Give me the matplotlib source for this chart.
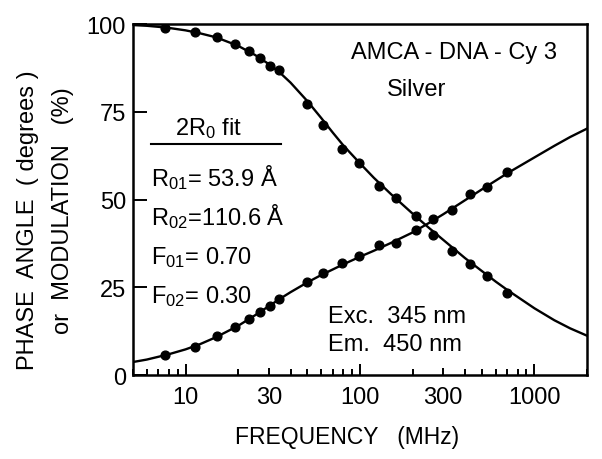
"""Phase angle and modulation vs frequency, AMCA-DNA-Cy3 on silver."""

import matplotlib

matplotlib.use("Agg")
from matplotlib import pyplot as plt
from matplotlib.ticker import FixedLocator, LogLocator, NullFormatter

plt.rcParams["font.family"] = ["Liberation Sans", "DejaVu Sans"]
plt.rcParams["mathtext.default"] = "regular"

# measured frequencies (MHz)
freq = [7.6, 11.4, 15.2, 19.1, 23.0, 26.8, 30.6, 34.5, 49.5, 61.2, 78.9, 98.4,
        128, 161, 210, 263, 335, 425, 537, 693]
modulation = [98.9, 97.7, 96.3, 94.3, 92.3, 90.3, 88.0, 86.9, 77.2, 71.2, 64.4, 60.4,
              53.8, 50.4, 45.3, 39.9, 35.3, 31.6, 28.2, 23.4]
phase = [5.7, 8.0, 11.1, 13.7, 16.0, 17.9, 19.7, 21.7, 26.5, 29.1, 31.9, 33.9,
         37.0, 37.6, 41.3, 44.4, 47.0, 51.6, 53.6, 57.8]

# fitted curves
fit_freq = [5, 6, 7, 8, 10, 12, 15, 20, 25, 30, 35, 40, 50, 60, 70, 80, 100, 120,
            150, 200, 250, 300, 400, 500, 600, 700, 1000, 1300, 1600, 2000]
fit_modulation = [99.7, 99.5, 99.2, 98.9, 98.2, 97.4, 96.2, 93.8, 91.2, 88.6, 86.0, 83.3,
                  78.0, 73.2, 69.0, 65.5, 60.3, 56.2, 51.6, 46.0, 41.8, 38.5, 33.3, 29.6,
                  26.6, 24.2, 19.0, 15.6, 13.3, 11.2]
fit_phase = [3.7, 4.4, 5.2, 5.9, 7.3, 8.7, 10.8, 14.0, 17.0, 19.6, 21.8, 23.6,
             26.4, 28.5, 30.1, 31.5, 33.7, 35.4, 37.6, 40.6, 43.4, 45.8, 49.8, 52.9,
             55.4, 57.5, 62.0, 65.3, 67.8, 70.2]

x_ticks = [10, 30, 100, 300, 1000]
y_ticks = [0, 25, 50, 75, 100]


def main() -> None:
    fig = plt.figure(figsize=(6.02, 4.60), dpi=100)
    ax = fig.add_axes([0.2209, 0.1826, 0.7542, 0.7630])

    ax.plot(fit_freq, fit_modulation, color="black", linewidth=1.7)
    ax.plot(fit_freq, fit_phase, color="black", linewidth=1.7)
    ax.plot(freq, modulation, "o", color="black", markersize=6.3)
    ax.plot(freq, phase, "o", color="black", markersize=6.3)

    ax.set_xscale("log")
    ax.set_xlim(5, 2000)
    ax.set_ylim(0, 100)

    ax.xaxis.set_major_locator(FixedLocator(x_ticks))
    ax.set_xticklabels([str(t) for t in x_ticks])
    ax.xaxis.set_minor_locator(LogLocator(base=10, subs=range(2, 10)))
    ax.xaxis.set_minor_formatter(NullFormatter())
    ax.set_yticks(y_ticks)
    ax.set_yticklabels([str(t) for t in y_ticks])

    ax.tick_params(axis="x", which="major", direction="in", length=5, width=1.4,
                   labelsize=17, pad=8)
    ax.tick_params(axis="x", which="minor", direction="in", length=4, width=1.4)
    ax.tick_params(axis="y", which="major", direction="in", length=10, width=1.4,
                   labelsize=17, pad=5)
    # the decade ticks are drawn taller than the rest
    for tick, value in zip(ax.xaxis.get_major_ticks(), x_ticks):
        if value in (10, 100, 1000):
            tick.tick1line.set_markersize(8)

    for spine in ax.spines.values():
        spine.set_linewidth(1.8)

    text_kw = dict(transform=ax.transAxes, fontsize=17, color="black")
    ax.text(0.481, 0.92, "AMCA - DNA - Cy 3", ha="left", va="center", **text_kw)
    ax.text(0.56, 0.815, "Silver", ha="left", va="center", **text_kw)
    ax.text(0.093, 0.705, "2R$_0$ fit", ha="left", va="center", **text_kw)
    ax.plot([0.04, 0.326], [0.658, 0.658], color="black", linewidth=1.5,
            transform=ax.transAxes)
    ax.text(0.04, 0.565, "R$_{01}$= 53.9 Å", ha="left", va="center", **text_kw)
    ax.text(0.04, 0.455, "R$_{02}$=110.6 Å", ha="left", va="center", **text_kw)
    ax.text(0.04, 0.337, "F$_{01}$= 0.70", ha="left", va="center", **text_kw)
    ax.text(0.04, 0.226, "F$_{02}$= 0.30", ha="left", va="center", **text_kw)
    ax.text(0.43, 0.168, "Exc.  345 nm", ha="left", va="center", **text_kw)
    ax.text(0.43, 0.088, "Em.  450 nm", ha="left", va="center", **text_kw)

    fig.text(0.576, 0.048, "FREQUENCY   (MHz)", ha="center", va="center", fontsize=16.5)
    fig.text(0.046, 0.522, "PHASE  ANGLE  ( degrees )", rotation=90, ha="center",
             va="center", fontsize=17)
    fig.text(0.104, 0.543, "or  MODULATION   (%)", rotation=90, ha="center",
             va="center", fontsize=17)

    fig.savefig("out.png", dpi=100)
    plt.close(fig)


if __name__ == "__main__":
    main()
